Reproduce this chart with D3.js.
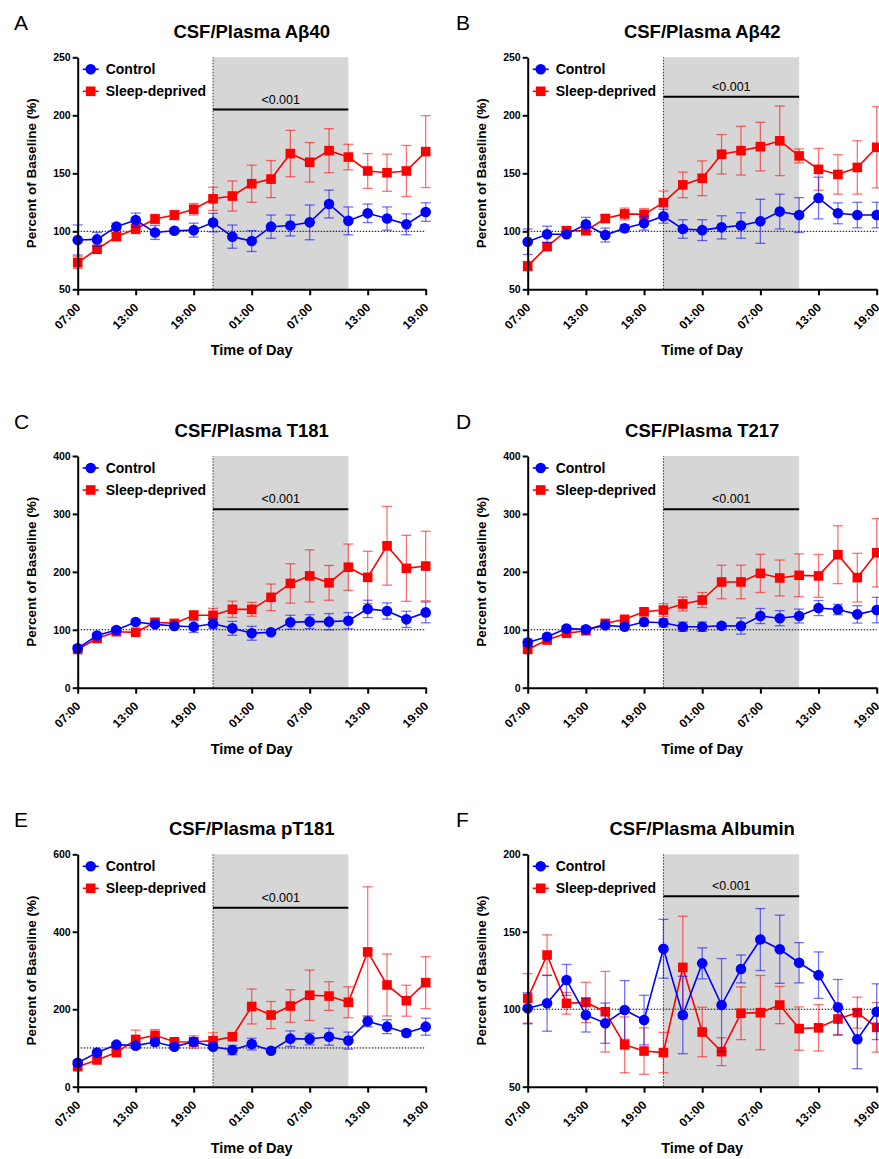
<!DOCTYPE html>
<head>
<meta charset="utf-8">
<title>CSF/Plasma ratios, sleep deprivation</title>
<script src="https://d3js.org/d3.v7.min.js"></script>
<style>
  body { margin: 0; background: #fff; }
  svg text { font-family: "Liberation Sans", Arial, Helvetica, sans-serif; }
  .axis path, .axis line { stroke: #000; stroke-width: 2; }
  .axis text { font-weight: bold; font-size: 10.5px; fill: #000; }
</style>
</head>
<body>
<div id="chart"></div>
<script>

//------------------------DATA------------------------//
// sampling times, hours since 07:00 on day one
const hours = [0, 2, 4, 6, 8, 10, 12, 14, 16, 18, 20, 22, 24, 26, 28, 30, 32, 34, 36];
const tickHours = [0, 6, 12, 18, 24, 30, 36];
const tickLabels = ["07:00", "13:00", "19:00", "01:00", "07:00", "13:00", "19:00"];
const nightStart = 14;   // 21:00
const nightEnd = 28;     // 11:00 next day
const seriesNames = ["Control", "Sleep-deprived"];

const a40Ctrl = [92.5, 93, 104, 109.7, 99, 100.5, 101, 107.5, 95.4, 91.6, 104, 105, 107.7, 123.5, 109, 115.5, 111, 106, 116.6];
const a40CtrlErr = [13, 6, 3, 6, 6, 2, 6, 8, 10, 9, 10, 9, 15, 12, 12, 8, 10, 9, 8];
const a40Sd = [73, 84.5, 95.4, 102, 110.6, 114, 119, 128, 130.4, 141, 145, 167, 159.5, 169.5, 164, 152, 150.5, 152, 168.7];
const a40SdErr = [5, 3, 3, 4, 4, 4, 5, 10, 13, 16, 16, 20, 17, 19, 11, 15, 16, 22, 31];

const a42Ctrl = [91, 97.4, 97.4, 106, 96.8, 102.6, 107, 113, 102, 101, 103.4, 105, 108.6, 117, 114, 128.7, 115.5, 114, 114];
const a42CtrlErr = [11, 7, 2, 6, 6, 3, 6, 6, 8, 9, 10, 11, 19, 15, 15, 18, 9, 11, 11];
const a42Sd = [70, 86.8, 100.5, 100.5, 111, 115, 114.6, 124.7, 140, 145.7, 166.4, 169.5, 173, 178, 165, 153.4, 149, 155, 172.4];
const a42SdErr = [4, 3, 3, 3, 3, 5, 5, 10, 11, 15, 17, 21, 21, 30, 6, 18, 17, 23, 35];

const t181Ctrl = [68, 90, 99.6, 113.4, 109.4, 106.5, 105.3, 110.5, 102.5, 94, 95.6, 113, 114, 114, 115.7, 136, 132.4, 118, 130];
const t181CtrlErr = [4, 4, 3, 3, 3, 4, 10, 8, 12, 12, 3, 12, 12, 14, 14, 15, 14, 14, 18];
const t181Sd = [66, 85, 96.7, 95.6, 113, 111, 125, 125, 135.3, 135.3, 156, 180, 193, 181, 208, 190.5, 245, 206, 210];
const t181SdErr = [3, 4, 3, 3, 4, 4, 8, 12, 14, 12, 23, 34, 45, 30, 40, 45, 68, 57, 60];

const t217Ctrl = [78, 88, 102, 100.7, 107.6, 105.3, 113.4, 112, 105.3, 105.3, 107, 106.5, 123.7, 120, 123.7, 137.5, 135, 126.6, 134];
const t217CtrlErr = [6, 4, 4, 3, 4, 5, 7, 7, 8, 8, 4, 14, 13, 13, 12, 13, 9, 15, 22];
const t217Sd = [66, 82.3, 94, 98.4, 111, 118, 131, 134, 144.5, 151.4, 182.5, 182.5, 197.4, 189.4, 194, 193, 229.6, 190, 233];
const t217SdErr = [5, 3, 3, 3, 4, 4, 5, 11, 12, 13, 29, 29, 33, 31, 37, 37, 50, 42, 59];

const pt181Ctrl = [62, 88, 108.5, 106, 115.4, 103.3, 116.2, 103.3, 94.7, 110, 93, 124, 123, 129, 119, 168.7, 155, 138.6, 155];
const pt181CtrlErr = [5, 5, 5, 5, 10, 5, 10, 5, 12, 15, 5, 20, 15, 22, 22, 14, 18, 8, 22];
const pt181Sd = [51.7, 69, 88, 122, 132.6, 116, 115.4, 119, 129, 207, 185, 208.3, 236, 234, 218, 348, 262.6, 222, 268.6];
const pt181SdErr = [5, 5, 5, 24, 15, 5, 16, 20, 5, 45, 35, 42, 65, 37, 40, 168, 80, 40, 67];

const albCtrl = [100.6, 103.8, 118.9, 96.3, 91, 99.5, 93, 139, 96.3, 129.6, 102.7, 126, 145, 138.7, 130, 122, 101.2, 80.6, 98.4];
const albCtrlErr = [10, 18, 10, 11, 13, 19, 16, 19, 25, 10, 30, 9, 20, 22, 13, 15, 18, 19, 18];
const albSd = [107, 135, 103.8, 104.4, 98.4, 77, 73, 72, 127, 85.3, 72.6, 97.4, 97.8, 102.7, 87.5, 88, 93.7, 97.8, 88.3];
const albSdErr = [16, 13, 7, 13, 26, 18, 15, 13, 33, 16, 9, 17, 24, 12, 14, 15, 10, 10, 16];

const panels = [
  {letter: "A", title: "CSF/Plasma A\u03b240", yDomain: [50, 250], yTicks: [50, 100, 150, 200, 250], sig: 205,
   ctrl: a40Ctrl, ctrlErr: a40CtrlErr, sd: a40Sd, sdErr: a40SdErr},
  {letter: "B", title: "CSF/Plasma A\u03b242", yDomain: [50, 250], yTicks: [50, 100, 150, 200, 250], sig: 216,
   ctrl: a42Ctrl, ctrlErr: a42CtrlErr, sd: a42Sd, sdErr: a42SdErr},
  {letter: "C", title: "CSF/Plasma T181", yDomain: [0, 400], yTicks: [0, 100, 200, 300, 400], sig: 308,
   ctrl: t181Ctrl, ctrlErr: t181CtrlErr, sd: t181Sd, sdErr: t181SdErr},
  {letter: "D", title: "CSF/Plasma T217", yDomain: [0, 400], yTicks: [0, 100, 200, 300, 400], sig: 308,
   ctrl: t217Ctrl, ctrlErr: t217CtrlErr, sd: t217Sd, sdErr: t217SdErr},
  {letter: "E", title: "CSF/Plasma pT181", yDomain: [0, 600], yTicks: [0, 200, 400, 600], sig: 462,
   ctrl: pt181Ctrl, ctrlErr: pt181CtrlErr, sd: pt181Sd, sdErr: pt181SdErr},
  {letter: "F", title: "CSF/Plasma Albumin", yDomain: [50, 200], yTicks: [50, 100, 150, 200], sig: 173,
   ctrl: albCtrl, ctrlErr: albCtrlErr, sd: albSd, sdErr: albSdErr}
];

//------------------------LAYOUT------------------------//
const W = 879, H = 1159;
const cols = [[77.7, 425.7], [527.7, 876.7]];
const rows = [[57.3, 289.3], [456, 687.7], [854.3, 1086.7]];
const BLUE = "#0000ff", RED = "#ff0000";

const svg = d3.select("#chart").append("svg")
    .attr("width", W)
    .attr("height", H);

panels.forEach(function(p, i) {
  const [x0, x1] = cols[i % 2];
  const [y0, y1] = rows[Math.floor(i / 2)];
  const g = svg.append("g");

  const x = d3.scaleLinear().domain([0, 36]).range([x0, x1]);
  const y = d3.scaleLinear().domain(p.yDomain).range([y1, y0]);

  // panel letter + title
  g.append("text")
    .attr("x", i % 2 ? 456 : 14)
    .attr("y", y0 - 27)
    .style("font-size", "21px")
    .text(p.letter);
  g.append("text")
    .attr("x", (x0 + x1) / 2)
    .attr("y", y0 - 19)
    .attr("text-anchor", "middle")
    .style("font-size", "18.5px")
    .style("font-weight", "bold")
    .text(p.title);

  // sleep deprivation window
  g.append("rect")
    .attr("x", x(nightStart))
    .attr("y", y.range()[1])
    .attr("width", x(nightEnd) - x(nightStart))
    .attr("height", y.range()[0] - y.range()[1])
    .attr("fill", "#d6d6d6");
  g.append("line")
    .attr("x1", x(nightStart)).attr("x2", x(nightStart))
    .attr("y1", y.range()[0]).attr("y2", y.range()[1])
    .attr("stroke", "#333").attr("stroke-width", 1).attr("stroke-dasharray", "1.5,1.5");
  // baseline 100%
  g.append("line")
    .attr("x1", x(0)).attr("x2", x(36))
    .attr("y1", y(100)).attr("y2", y(100))
    .attr("stroke", "#000").attr("stroke-width", 1).attr("stroke-dasharray", "1.5,1.5");

  // significance bar
  g.append("line")
    .attr("x1", x(nightStart)).attr("x2", x(nightEnd))
    .attr("y1", y(p.sig)).attr("y2", y(p.sig))
    .attr("stroke", "#000").attr("stroke-width", 2);
  g.append("text")
    .attr("x", (x(nightStart) + x(nightEnd)) / 2)
    .attr("y", y(p.sig) - 6)
    .attr("text-anchor", "middle")
    .style("font-size", "12.5px")
    .text("<0.001");

  // series: red first, blue on top
  const series = [
    {vals: p.sd, err: p.sdErr, color: RED, shape: "square"},
    {vals: p.ctrl, err: p.ctrlErr, color: BLUE, shape: "circle"}
  ];
  series.forEach(function(s) {
    const pts = hours.map((h, k) => ({h: h, v: s.vals[k], e: s.err[k]}));
    const eb = g.append("g")
      .attr("stroke", s.color).attr("stroke-opacity", 0.55).attr("stroke-width", 1.3);
    pts.forEach(function(d) {
      const cx = x(d.h);
      eb.append("line").attr("x1", cx).attr("x2", cx).attr("y1", y(d.v - d.e)).attr("y2", y(d.v + d.e));
      eb.append("line").attr("x1", cx - 5).attr("x2", cx + 5).attr("y1", y(d.v + d.e)).attr("y2", y(d.v + d.e));
      eb.append("line").attr("x1", cx - 5).attr("x2", cx + 5).attr("y1", y(d.v - d.e)).attr("y2", y(d.v - d.e));
    });
    g.append("path")
      .datum(pts)
      .attr("fill", "none")
      .attr("stroke", s.color)
      .attr("stroke-width", 1.6)
      .attr("d", d3.line().x(d => x(d.h)).y(d => y(d.v)));
    if (s.shape === "circle") {
      g.selectAll(null).data(pts).enter().append("circle")
        .attr("cx", d => x(d.h)).attr("cy", d => y(d.v)).attr("r", 5.3)
        .attr("fill", s.color);
    } else {
      g.selectAll(null).data(pts).enter().append("rect")
        .attr("x", d => x(d.h) - 4.8).attr("y", d => y(d.v) - 4.8)
        .attr("width", 9.6).attr("height", 9.6)
        .attr("fill", s.color);
    }
  });

  // axes
  g.append("g")
    .attr("class", "axis")
    .attr("transform", "translate(" + x0 + ",0)")
    .call(d3.axisLeft(y).tickValues(p.yTicks).tickSize(5).tickSizeOuter(0).tickPadding(2));
  const xa = g.append("g")
    .attr("class", "axis")
    .attr("transform", "translate(0," + y1 + ")")
    .call(d3.axisBottom(x).tickValues(tickHours)
      .tickFormat((d, k) => tickLabels[k]).tickSize(6).tickSizeOuter(0));
  xa.selectAll("text")
    .style("font-size", "12px")
    .attr("text-anchor", "end")
    .attr("x", 0).attr("y", 0).attr("dx", 0).attr("dy", 0)
    .attr("transform", "translate(3,19) rotate(-45)");

  // axis titles
  g.append("text")
    .attr("transform", "translate(" + (x0 - 42) + "," + ((y0 + y1) / 2) + ") rotate(-90)")
    .attr("text-anchor", "middle")
    .style("font-size", "13.5px")
    .style("font-weight", "bold")
    .text("Percent of Baseline (%)");
  g.append("text")
    .attr("x", (x0 + x1) / 2)
    .attr("y", y1 + 66)
    .attr("text-anchor", "middle")
    .style("font-size", "14.5px")
    .style("font-weight", "bold")
    .text("Time of Day");

  // legend
  const lg = g.append("g");
  seriesNames.forEach(function(name, k) {
    const ly = y0 + 12 + k * 22;
    const col = k === 0 ? BLUE : RED;
    lg.append("line")
      .attr("x1", x0 + 5).attr("x2", x0 + 21).attr("y1", ly).attr("y2", ly)
      .attr("stroke", col).attr("stroke-width", 1.6);
    if (k === 0) {
      lg.append("circle").attr("cx", x0 + 13).attr("cy", ly).attr("r", 5.3).attr("fill", col);
    } else {
      lg.append("rect").attr("x", x0 + 8.2).attr("y", ly - 4.8).attr("width", 9.6).attr("height", 9.6).attr("fill", col);
    }
    lg.append("text")
      .attr("x", x0 + 28).attr("y", ly + 5)
      .style("font-size", "14px")
      .style("font-weight", "bold")
      .text(name);
  });
});

</script>
</body>
